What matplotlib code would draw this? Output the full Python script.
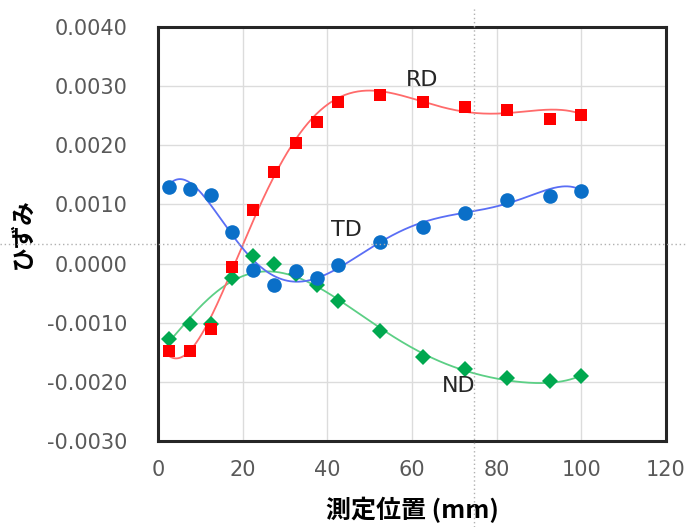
import numpy as np
import matplotlib
matplotlib.use("Agg")
import matplotlib.pyplot as plt
from matplotlib.lines import Line2D

plt.rcParams['font.family'] = ['DejaVu Sans', 'Noto Sans CJK JP']

# ---- measured points ----
x_pos = [2.5, 7.5, 12.5, 17.5, 22.5, 27.5, 32.5, 37.5, 42.5, 52.5, 62.5, 72.5, 82.5, 92.5, 100]
rd = [-0.00148, -0.00148, -0.00111, -0.00005, 0.00091, 0.00154, 0.00204, 0.00240,
      0.00274, 0.00285, 0.00274, 0.00265, 0.00260, 0.00244, 0.00251]
td = [0.00129, 0.00126, 0.00116, 0.00053, -0.00011, -0.00037, -0.00013, -0.00024,
      -0.00002, 0.00036, 0.00062, 0.00085, 0.00107, 0.00115, 0.00123]
nd = [-0.00128, -0.00103, -0.00102, -0.00024, 0.00013, 0.00000, -0.00018, -0.00037,
      -0.00064, -0.00114, -0.00158, -0.00178, -0.00194, -0.00198, -0.00190]

# ---- trend curves ----
curve_x = [2.5, 5, 10, 15, 20, 25, 30, 35, 40, 45, 50, 55, 60, 65, 70, 75, 80, 85, 90, 95, 100]
rd_curve = [-0.00156, -0.00157, -0.00126, -0.00059, 0.00040, 0.00116, 0.00182, 0.00228,
            0.00265, 0.00287, 0.00295, 0.00291, 0.00281, 0.00268, 0.00259, 0.00253,
            0.00253, 0.00256, 0.00260, 0.00261, 0.00252]
td_curve = [0.00135, 0.00139, 0.00120, 0.00080, 0.00024, -0.00013, -0.00028, -0.00031,
            -0.00017, 0.00007, 0.00027, 0.00043, 0.00062, 0.00076, 0.00082, 0.00088,
            0.00098, 0.00110, 0.00119, 0.00128, 0.00125]
nd_curve = [-0.00131, -0.00115, -0.00075, -0.00038, -0.00020, -0.00015, -0.00018, -0.00028,
            -0.00049, -0.00074, -0.00099, -0.00119, -0.00140, -0.00161, -0.00175, -0.00186,
            -0.00196, -0.00200, -0.00202, -0.00198, -0.00190]

series_names = ["RD", "TD", "ND"]
label_pos = {"RD": (62.4, 0.00310), "TD": (44.6, 0.00056), "ND": (71.1, -0.00207)}
x_ticks = [0, 20, 40, 60, 80, 100, 120]
y_ticks = [-0.003, -0.002, -0.001, 0.0, 0.001, 0.002, 0.003, 0.004]
xlabel = "測定位置 (mm)"
ylabel = "ひずみ"

styles = {
    "RD": dict(marker='s', color='#ff0000', ms=8.5, line='#ff6b6b'),
    "TD": dict(marker='o', color='#0a6fc8', ms=10.5, line='#5a6ef5'),
    "ND": dict(marker='D', color='#00a84f', ms=8, line='#5ccf85'),
}
points = {"RD": rd, "TD": td, "ND": nd}
curves = {"RD": rd_curve, "TD": td_curve, "ND": nd_curve}

fig = plt.figure(figsize=(6.86, 5.27), dpi=100)
ax = fig.add_axes([158/686, 1-441/527, (666-158)/686, (441-27)/527])

cx = np.array(curve_x)
xx = np.linspace(cx.min(), cx.max(), 300)
order = ["ND", "RD", "TD"]
for name in order:
    p = np.polynomial.Polynomial.fit(cx, np.array(curves[name]), 6)
    ax.plot(xx, p(xx), color=styles[name]['line'], lw=1.3, zorder=3)
for name in order:
    st = styles[name]
    ax.plot(x_pos, points[name], linestyle='none', marker=st['marker'], color=st['color'],
            ms=st['ms'], markeredgewidth=0, zorder=4)

for name in series_names:
    ax.text(*label_pos[name], name, fontsize=16, color='#262626', ha='center', va='center',
            zorder=5)

ax.set_xlim(0, 120)
ax.set_ylim(-0.003, 0.004)
ax.set_xticks(x_ticks)
ax.set_yticks(y_ticks)
ax.set_yticklabels([f"{v:.4f}" if abs(v) > 1e-12 else "0.0000" for v in y_ticks])
ax.grid(True, color='#dcdcdc', lw=1)
ax.set_axisbelow(True)
ax.tick_params(length=0, labelsize=15, labelcolor='#595959')
ax.tick_params(axis='x', pad=14)
ax.tick_params(axis='y', pad=22)
for sp in ax.spines.values():
    sp.set_color('#262626')
    sp.set_linewidth(2.2)

ax.set_xlabel(xlabel, fontsize=18, fontweight='bold', family=['Noto Sans CJK JP', 'DejaVu Sans'],
              labelpad=12)
ax.set_ylabel(ylabel, fontsize=17, fontweight='bold', family=['Noto Sans CJK JP', 'DejaVu Sans'],
              labelpad=9)

# dotted crosshair lines (figure overlay)
fig.add_artist(Line2D([474/686, 474/686], [0, 1-8/527], transform=fig.transFigure,
                      color='#b0b0b0', lw=1, ls=(0, (1, 2)), zorder=10))
fig.add_artist(Line2D([0, 1], [1-244/527, 1-244/527], transform=fig.transFigure,
                      color='#b0b0b0', lw=1, ls=(0, (1, 2)), zorder=10))

fig.savefig("out.png", dpi=100)
